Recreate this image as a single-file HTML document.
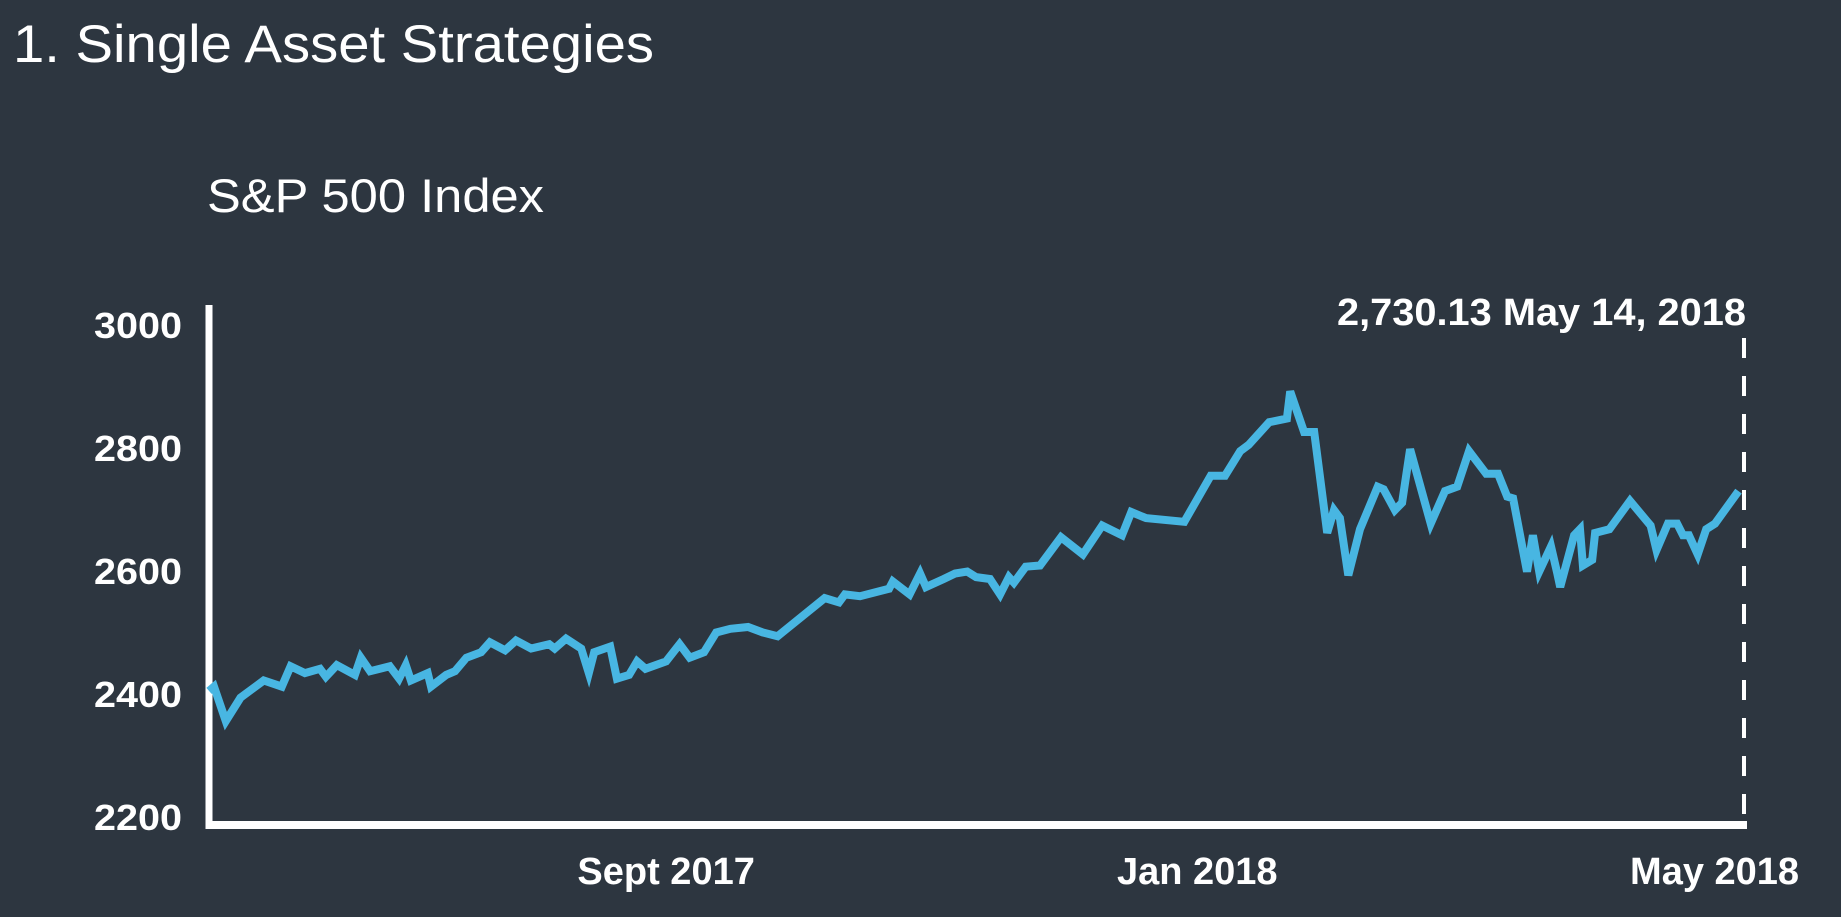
<!DOCTYPE html>
<html><head><meta charset="utf-8">
<style>
html,body{margin:0;padding:0;background:#2d3640;}
svg{display:block;}
text{font-family:"Liberation Sans",sans-serif;fill:#fff;}
</style></head>
<body>
<svg id="chart" width="1841" height="917" viewBox="0 0 1841 917">
<rect width="1841" height="917" fill="#2d3640"/>
<text x="13" y="62" font-size="53" textLength="641" lengthAdjust="spacingAndGlyphs">1. Single Asset Strategies</text>
<text x="207" y="212" font-size="47" textLength="337" lengthAdjust="spacingAndGlyphs">S&amp;P 500 Index</text>
<g id="axes"></g>
<path id="series" fill="none" stroke="#48b6e2" stroke-width="8" stroke-linejoin="miter"/>
<text x="1746" y="325" font-size="38" font-weight="bold" text-anchor="end" textLength="409" lengthAdjust="spacingAndGlyphs">2,730.13 May 14, 2018</text>
</svg>
<script>
const days = [0,1.2,4,7.5,13,17.3,19.4,22.8,26.4,27.8,30.4,34.7,36.1,38.3,43,45.2,46.8,48,52,52.8,56.4,58.5,61.2,64.7,66.8,70.4,73,76.6,80.9,82.2,84.9,88.5,90.3,91.6,95.4,97,99.9,101.8,103.8,108.7,111.9,114.3,117.7,120.6,124,128.2,131.7,135.2,146.4,149.8,151.2,154.8,161.7,162.6,166.6,169.1,170.5,174.7,177.4,180.3,182.4,185.7,188.1,190.2,191.4,194.2,197.6,202.6,207.8,212.4,217.1,219.3,222.8,231.9,238.2,241.6,245.2,247.2,252.1,256.3,257.1,260.4,262.8,265.9,267.5,268.9,270.9,273.7,277.9,279.3,282,283.7,285.6,290.5,293.9,296.8,299.6,303.7,306.5,308.7,310.1,313.4,314.8,316.3,319.1,320.6,321.3,324.6,326,326.7,328.9,329.6,333,337.9,342.8,344.2,346.9,349.1,350.5,351.9,354,356,358.1,363.7,365];
const values = [2405,2412,2356,2394,2422,2412,2445,2434,2441,2428,2447,2431,2459,2437,2445,2425,2447,2422,2434,2412,2431,2437,2459,2468,2484,2471,2487,2474,2481,2474,2490,2474,2434,2468,2477,2425,2431,2453,2441,2453,2481,2459,2468,2500,2506,2509,2500,2494,2556,2549,2562,2559,2571,2583,2562,2596,2574,2587,2596,2599,2590,2587,2562,2590,2581,2607,2609,2655,2627,2674,2658,2696,2686,2680,2755,2755,2795,2805,2842,2848,2892,2826,2826,2662,2699,2686,2593,2668,2737,2733,2699,2711,2798,2677,2730,2737,2795,2758,2758,2721,2718,2599,2658,2599,2640,2596,2574,2658,2668,2609,2618,2662,2668,2714,2674,2634,2677,2677,2658,2658,2627,2668,2677,2730];
const yTicks = [2200,2400,2600,2800,3000];
const xTickDays = [108.7,235,358];
const xTickLabels = ["Sept 2017","Jan 2018","May 2018"];

const X0=209, X1=1744, D0=0, D1=365;
const Y0=817, Y1=325, V0=2200, V1=3000;
const xs = d => X0 + (d-D0)/(D1-D0)*(X1-X0);
const ys = v => Y0 - (v-V0)/(V1-V0)*(Y0-Y1);
const NS="http://www.w3.org/2000/svg";
const axes=document.getElementById('axes');

const ya=document.createElementNS(NS,'line');


ya.setAttribute('x1',X0);ya.setAttribute('x2',X0);ya.setAttribute('y1',305);ya.setAttribute('y2',829);
ya.setAttribute('stroke','#fff');ya.setAttribute('stroke-width','7');
axes.appendChild(ya);
const xa=document.createElementNS(NS,'line');


xa.setAttribute('x1',X0-3);xa.setAttribute('x2',X1+3);xa.setAttribute('y1',825);xa.setAttribute('y2',825);
xa.setAttribute('stroke','#fff');xa.setAttribute('stroke-width','8');
axes.appendChild(xa);
const dl=document.createElementNS(NS,'line');


dl.setAttribute('x1',X1);dl.setAttribute('x2',X1);dl.setAttribute('y1',338);dl.setAttribute('y2',821);
dl.setAttribute('stroke','#fff');dl.setAttribute('stroke-width','4');dl.setAttribute('stroke-dasharray','20 18');
axes.appendChild(dl);

yTicks.forEach(v=>{
  const t=document.createElementNS(NS,'text');
  
  
  t.setAttribute('x',182);t.setAttribute('y',ys(v)+13);
  t.setAttribute('text-anchor','end');t.setAttribute('font-size','36');t.setAttribute('font-weight','bold');
  t.setAttribute('textLength','88');t.setAttribute('lengthAdjust','spacingAndGlyphs');
  t.textContent=v;
  axes.appendChild(t);
});
xTickDays.forEach((d,i)=>{
  const t=document.createElementNS(NS,'text');
  
  
  t.setAttribute('x',xs(d));t.setAttribute('y',884);
  t.setAttribute('text-anchor','middle');t.setAttribute('font-size','38');t.setAttribute('font-weight','bold');
  t.textContent=xTickLabels[i];
  axes.appendChild(t);
});
document.getElementById('series').setAttribute('d',
  days.map((d,i)=>(i?'L':'M')+xs(d).toFixed(1)+' '+ys(values[i]).toFixed(1)).join(' '));
</script>
</body></html>
